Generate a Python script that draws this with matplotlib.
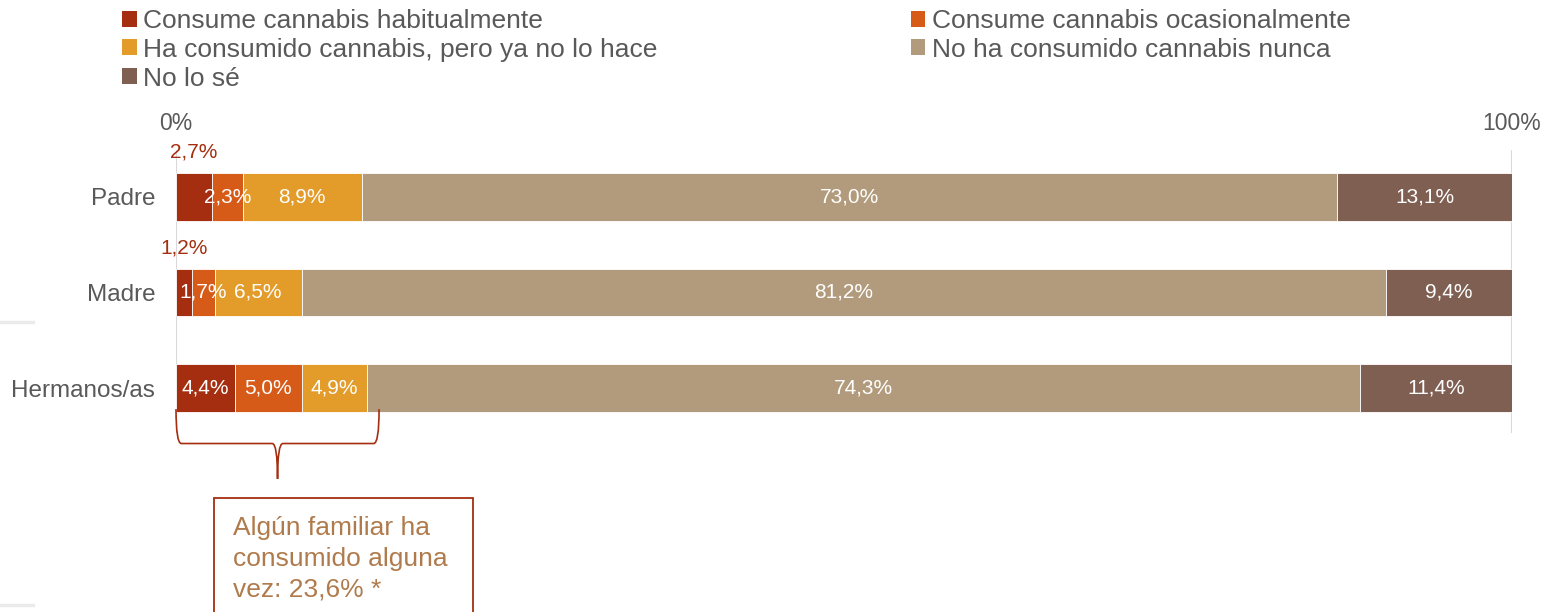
import matplotlib
matplotlib.use("Agg")
import matplotlib.pyplot as plt
from matplotlib.patches import Patch, Rectangle, PathPatch
from matplotlib.path import Path
from matplotlib.lines import Line2D

plt.rcParams["font.family"] = ["Liberation Sans", "DejaVu Sans"]

categories = ["Padre", "Madre", "Hermanos/as"]
series = [
    "Consume cannabis habitualmente",
    "Consume cannabis ocasionalmente",
    "Ha consumido cannabis, pero ya no lo hace",
    "No ha consumido cannabis nunca",
    "No lo sé",
]
habitual = [2.7, 1.2, 4.4]
ocasional = [2.3, 1.7, 5.0]
ya_no = [8.9, 6.5, 4.9]
nunca = [73.0, 81.2, 74.3]
no_se = [13.1, 9.4, 11.4]
tick_labels = ["0%", "100%"]
note = "Algún familiar ha\nconsumido alguna\nvez: 23,6% *"

colors = ["#A52E10", "#D65A18", "#E39B2A", "#B29B7C", "#7E5F52"]
values = [habitual, ocasional, ya_no, nunca, no_se]

fig = plt.figure(figsize=(15.44, 6.12), dpi=100)
ax = fig.add_axes([176 / 1544, (612 - 433) / 612, 1336 / 1544, 283 / 612])

y = list(range(len(categories)))
left = [0.0] * len(categories)
for k, (vals, col) in enumerate(zip(values, colors)):
    ax.barh(y, vals, left=left, height=0.5, color=col, edgecolor="white", linewidth=0.6, zorder=3)
    for i, v in enumerate(vals):
        cx = left[i] + v / 2
        txt = f"{v:.1f}%".replace(".", ",")
        if k == 0 and v < 3:
            # narrow first segment: label sits above the bar
            ax.text(cx, i - 0.47, txt, ha="center", va="center", fontsize=15, color=col)
        else:
            ax.text(cx, i, txt, ha="center", va="center", fontsize=15, color="white", zorder=4)
    left = [l + v for l, v in zip(left, vals)]

ax.set_xlim(0, 100)
ax.set_ylim(2.47, -0.49)
ax.set_yticks(y)
ax.set_yticklabels(categories, fontsize=17.5, color="#595959")
ax.set_xticks([0, 100])
ax.set_xticklabels(tick_labels, fontsize=16.5, color="#595959")
ax.xaxis.tick_top()
ax.tick_params(axis="both", length=0)
ax.tick_params(axis="x", pad=11)
ax.tick_params(axis="y", pad=15)
for s in ax.spines.values():
    s.set_visible(False)
for xv in [0, 100]:
    ax.axvline(xv, color="#D9D9D9", linewidth=1.5, zorder=1)

# brace under the first three segments of Hermanos/as
hi = 2
x0 = 0.0
x1 = habitual[hi] + ocasional[hi] + ya_no[hi] + 0.9
xm = (x0 + x1) / 2
top, mid, tip = 2.22, 2.58, 2.95
verts = [
    (x0, top), (x0, mid), (x0 + 0.4, mid),
    (xm - 0.4, mid), (xm, mid), (xm, tip),
    (xm, mid), (xm + 0.4, mid),
    (x1 - 0.4, mid), (x1, mid), (x1, top),
]
codes = [Path.MOVETO, Path.CURVE3, Path.CURVE3,
         Path.LINETO, Path.CURVE3, Path.CURVE3,
         Path.CURVE3, Path.CURVE3,
         Path.LINETO, Path.CURVE3, Path.CURVE3]
ax.add_patch(PathPatch(Path(verts, codes), facecolor="none", edgecolor="#A52E10",
                       linewidth=1.2, clip_on=False, zorder=5))

# note box
fig.add_artist(Rectangle((214 / 1544, -0.05), (473 - 214) / 1544, (612 - 498) / 612 + 0.05,
                         transform=fig.transFigure, facecolor="white", edgecolor="#A52E10",
                         linewidth=1.3))
fig.text(233 / 1544, 1 - 516 / 612, note, fontsize=19, color="#B07B4C",
         va="top", ha="left", linespacing=1.35)

# faint marks on the left edge
for yy in [322, 605]:
    fig.add_artist(Line2D([0, 33 / 1544], [1 - yy / 612] * 2, color="#EBEBEB", linewidth=2.5,
                          transform=fig.transFigure))

handles = [Patch(facecolor=c, edgecolor="none") for c in colors]
order = [0, 2, 4, 1, 3]
fig.legend([handles[i] for i in order], [series[i] for i in order], ncol=2,
           loc="upper left", bbox_to_anchor=(122 / 1544, 1 - 9 / 612), frameon=False,
           fontsize=19, handlelength=0.55, handleheight=0.55, handletextpad=0.25,
           labelspacing=0.18, columnspacing=9.6, borderpad=0, borderaxespad=0,
           labelcolor="#595959")

fig.savefig("out.png", dpi=100)
